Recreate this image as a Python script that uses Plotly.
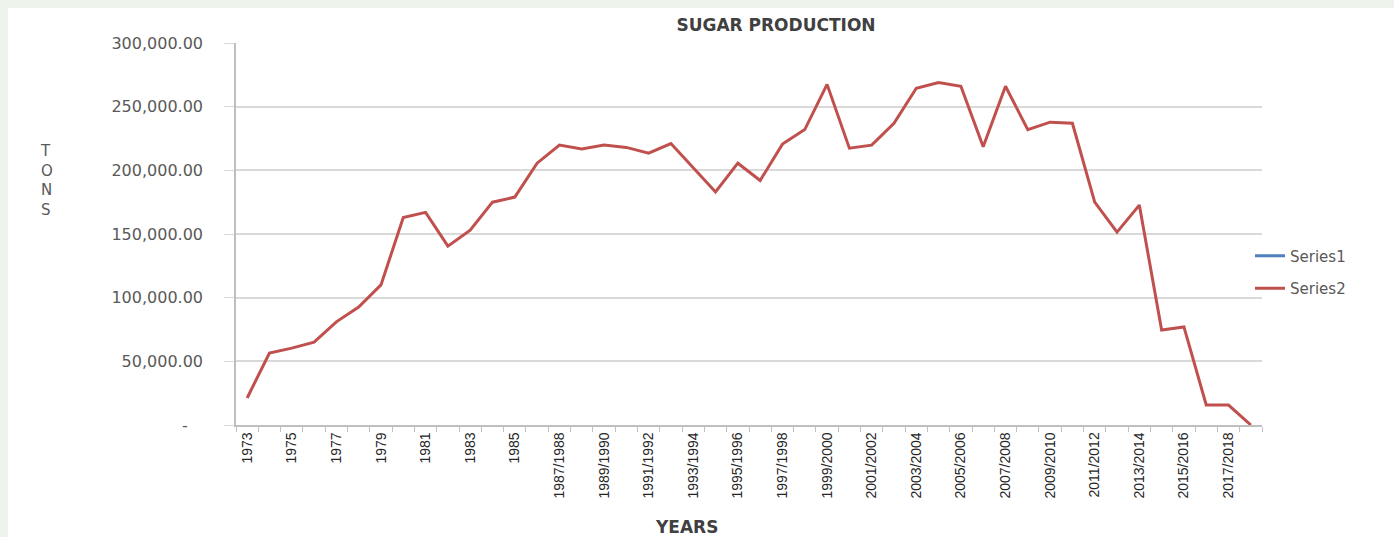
import plotly.graph_objects as go

years = ["1973", "1974", "1975", "1976", "1977", "1978", "1979", "1980", "1981", "1982",
         "1983", "1984", "1985", "1986", "1987/1988", "1988/1989", "1989/1990", "1990/1991",
         "1991/1992", "1992/1993", "1993/1994", "1994/1995", "1995/1996", "1996/1997",
         "1997/1998", "1998/1999", "1999/2000", "2000/2001", "2001/2002", "2002/2003",
         "2003/2004", "2004/2005", "2005/2006", "2006/2007", "2007/2008", "2008/2009",
         "2009/2010", "2010/2011", "2011/2012", "2012/2013", "2013/2014", "2014/2015",
         "2015/2016", "2016/2017", "2017/2018", "2018/2019"]

series2 = [21200, 56500, 60400, 65000, 81000, 92600, 110000, 163000, 167000, 140500,
           153000, 175000, 179000, 205600, 219800, 216700, 219800, 218000, 213500, 221000,
           202000, 183000, 205600, 192000, 220600, 232000, 267500, 217400, 219800, 237000,
           264500, 269000, 266000, 218500, 266000, 232000, 237800, 237000, 175000, 151500,
           172700, 74600, 77000, 15700, 15700, 0]
series1 = [None]

y_ticks = [0, 50000, 100000, 150000, 200000, 250000, 300000]
y_text = ["-\u00a0\u00a0\u00a0", "50,000.00", "100,000.00", "150,000.00", "200,000.00",
          "250,000.00", "300,000.00"]
x_text = [lab if i % 2 == 0 else "" for i, lab in enumerate(years)]

L, R, T, B = 236, 1262, 43, 425
W, H = 1394, 537
pw, ph = R - L, B - T

def px(x):
    return (x - L) / pw

def py(y):
    return (B - y) / ph

fig = go.Figure()
fig.add_trace(go.Scatter(x=years[:len(series1)], y=series1, mode="lines", name="Series1",
                         line=dict(color="#4f81bd", width=3), legendgroup="a"))
fig.add_trace(go.Scatter(x=years, y=series2, mode="lines", name="Series2",
                         line=dict(color="#c0504d", width=3), legendgroup="b"))

fig.update_layout(
    width=W, height=H,
    margin=dict(l=L, r=W - R, t=T, b=H - B, autoexpand=False),
    paper_bgcolor="#edf2ea",
    plot_bgcolor="white",
    font=dict(family="DejaVu Sans", color="#595959"),
    title=dict(text="<b>SUGAR PRODUCTION</b>", x=px(776), xanchor="center",
               xref="paper", y=1 - 25 / H, yanchor="middle",
               font=dict(family="DejaVu Sans", size=17, color="#404040")),
    showlegend=True,
    legend=dict(x=px(1250), xanchor="left", y=py(272), yanchor="middle",
                traceorder="grouped", tracegroupgap=10,
                font=dict(family="DejaVu Sans", size=15, color="#595959"),
                bgcolor="rgba(0,0,0,0)"),
    xaxis=dict(type="category", categoryorder="array", categoryarray=years,
               range=[-0.5, len(years) - 0.5],
               tickmode="array", tickvals=years, ticktext=x_text,
               tickson="boundaries", ticks="outside", ticklen=5, tickcolor="#bfbfbf",
               tickangle=-90, tickfont=dict(family="Liberation Sans", size=14, color="#262626"),
               showline=True, linecolor="#bfbfbf", linewidth=1.5,
               showgrid=False, zeroline=False),
    yaxis=dict(range=[0, 300000], tickmode="array", tickvals=y_ticks, ticktext=y_text,
               ticks="outside", ticklen=10, tickcolor="#d9d9d9",
               ticklabelstandoff=18,
               tickfont=dict(family="DejaVu Sans", size=16, color="#595959"),
               showline=True, linecolor="#bfbfbf", linewidth=1.5,
               showgrid=True, gridcolor="#d9d9d9", gridwidth=1.5, zeroline=False),
    shapes=[dict(type="rect", xref="paper", yref="paper", layer="below",
                 x0=px(8), x1=px(W + 5), y0=py(H + 5), y1=py(8),
                 fillcolor="white", line=dict(width=0))],
    annotations=[
        dict(text="<b>YEARS</b>", xref="paper", yref="paper", x=px(686), y=py(527),
             xanchor="center", yanchor="middle", showarrow=False,
             font=dict(family="DejaVu Sans", size=17, color="#404040")),
        dict(text="T<br>O<br>N<br>S", xref="paper", yref="paper", x=px(38), y=py(180),
             xanchor="left", yanchor="middle", showarrow=False, align="left",
             font=dict(family="DejaVu Sans", size=15, color="#595959")),
    ],
)

fig.write_html("out.html")
